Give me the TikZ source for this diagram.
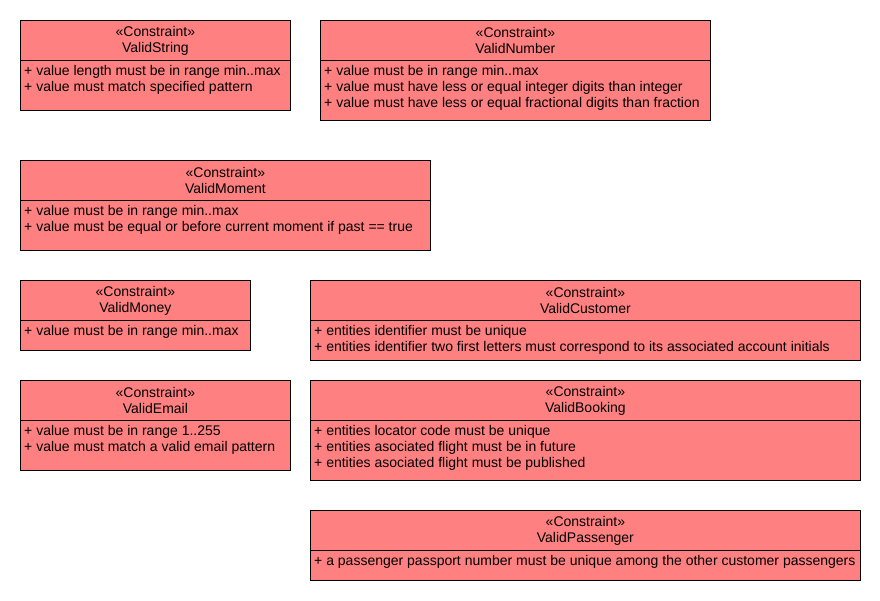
\documentclass[tikz,border=0pt]{standalone}
\usepackage{fontspec}
\setmainfont{Liberation Sans}
\usepackage{tikz}
\usetikzlibrary{positioning}
\definecolor{constraintred}{HTML}{FF8080}

\begin{document}
\begin{tikzpicture}[x=1pt,y=-1pt,font=\fontsize{14}{16}\selectfont]
\tikzstyle{frame} = [rectangle, draw, fill=constraintred, line width=0.8pt,
    inner sep=0pt, anchor=north west]
\tikzstyle{header} = [rectangle, draw, line width=0.8pt, align=center,
    minimum height=40pt, inner sep=0pt, anchor=north west]
\tikzstyle{attrs} = [align=left, inner xsep=4pt, inner ysep=4pt, anchor=north west]

\useasboundingbox (0,0) rectangle (880,600);

% left column
\node[frame, minimum width=270pt, minimum height=90pt] (string) at (20,20) {};
\node[header, minimum width=270pt] (stringhead) at (string.north west) {«Constraint»\\ValidString};
\node[attrs] (stringattrs) at (stringhead.south west) {+ value length must be in range min..max\\+ value must match specified pattern};

\node[frame, minimum width=410pt, minimum height=90pt] (moment) at (20,160) {};
\node[header, minimum width=410pt] (momenthead) at (moment.north west) {«Constraint»\\ValidMoment};
\node[attrs] (momentattrs) at (momenthead.south west) {+ value must be in range min..max\\+ value must be equal or before current moment if past == true};

\node[frame, minimum width=230pt, minimum height=70pt] (money) at (20,280) {};
\node[header, minimum width=230pt] (moneyhead) at (money.north west) {«Constraint»\\ValidMoney};
\node[attrs] (moneyattrs) at (moneyhead.south west) {+ value must be in range min..max};

\node[frame, minimum width=270pt, minimum height=90pt] (email) at (20,380) {};
\node[header, minimum width=270pt] (emailhead) at (email.north west) {«Constraint»\\ValidEmail};
\node[attrs] (emailattrs) at (emailhead.south west) {+ value must be in range 1..255\\+ value must match a valid email pattern};

% right column
\node[frame, minimum width=390pt, minimum height=100pt] (number) at (320,20) {};
\node[header, minimum width=390pt] (numberhead) at (number.north west) {«Constraint»\\ValidNumber};
\node[attrs] (numberattrs) at (numberhead.south west) {+ value must be in range min..max\\+ value must have less or equal integer digits than integer\\+ value must have less or equal fractional digits than fraction};

\node[frame, minimum width=550pt, minimum height=80pt] (customer) at (310,280) {};
\node[header, minimum width=550pt] (customerhead) at (customer.north west) {«Constraint»\\ValidCustomer};
\node[attrs] (customerattrs) at (customerhead.south west) {+ entities identifier must be unique\\+ entities identifier two first letters must correspond to its associated account initials};

\node[frame, minimum width=550pt, minimum height=100pt] (booking) at (310,380) {};
\node[header, minimum width=550pt] (bookinghead) at (booking.north west) {«Constraint»\\ValidBooking};
\node[attrs] (bookingattrs) at (bookinghead.south west) {+ entities locator code must be unique\\+ entities asociated flight must be in future\\+ entities asociated flight must be published};

\node[frame, minimum width=550pt, minimum height=70pt] (passenger) at (310,510) {};
\node[header, minimum width=550pt] (passengerhead) at (passenger.north west) {«Constraint»\\ValidPassenger};
\node[attrs] (passengerattrs) at (passengerhead.south west) {+ a passenger passport number must be unique among the other customer passengers};

\end{tikzpicture}
\end{document}
